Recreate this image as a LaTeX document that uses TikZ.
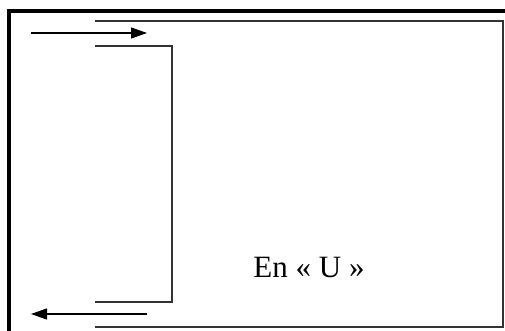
\documentclass[tikz,border=0pt]{standalone}
\usepackage{fontspec}
\setmainfont{Liberation Serif}
\usetikzlibrary{arrows.meta}
\definecolor{uline}{HTML}{333333}

\begin{document}
\begin{tikzpicture}[x=1pt,y=-1pt,
  frame/.style={line width=4pt,draw=black},
  wall/.style={line width=1.2pt,draw=uline},
  flow/.style={line width=1.2pt,draw=black,-{Triangle[length=16pt,width=11pt]}}]
  \useasboundingbox (0,0) rectangle (505,331);

  % outer frame
  \draw[frame] (9,335) -- (9,11) -- (509,11);

  % walls of the U
  \draw[wall] (95,21) -- (503,21) -- (503,327) -- (95,327);
  \draw[wall] (95,46) -- (172,46) -- (172,302) -- (95,302);

  % flow in and out
  \coordinate (inA) at (31,33);
  \coordinate (inB) at (147,33);
  \coordinate (outA) at (147,314);
  \coordinate (outB) at (31,314);
  \draw[flow] (inA) -- (inB);
  \draw[flow] (outA) -- (outB);

  \node[font=\fontsize{31}{35}\selectfont,anchor=base,inner sep=0pt] (lbl) at (309,277) {En\ « U\ »};
\end{tikzpicture}
\end{document}
